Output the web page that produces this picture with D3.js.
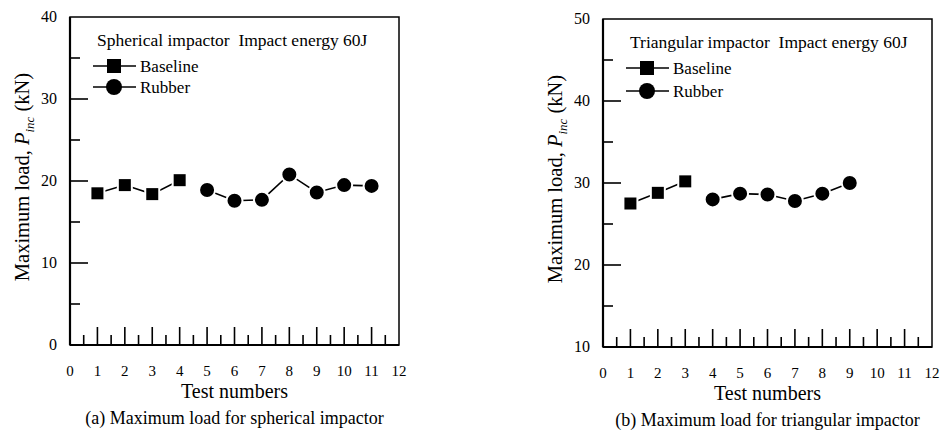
<!DOCTYPE html>
<html>
<head>
<meta charset="utf-8">
<script src="https://cdn.jsdelivr.net/npm/d3@7"></script>
<style>
  body { margin: 0; background: #fff; }
</style>
</head>
<body>
<script>
// test numbers and peak loads
var xTicks = [0, 1, 2, 3, 4, 5, 6, 7, 8, 9, 10, 11, 12];

var sphBaseX = [1, 2, 3, 4];
var sphBaseY = [18.5, 19.5, 18.4, 20.1];
var sphRubX  = [5, 6, 7, 8, 9, 10, 11];
var sphRubY  = [18.9, 17.6, 17.7, 20.8, 18.6, 19.5, 19.4];
var sphYTicks = [0, 10, 20, 30, 40];

var triBaseX = [1, 2, 3];
var triBaseY = [27.5, 28.8, 30.2];
var triRubX  = [4, 5, 6, 7, 8, 9];
var triRubY  = [28.0, 28.7, 28.6, 27.8, 28.7, 30.0];
var triYTicks = [10, 20, 30, 40, 50];

var FONT = "'Liberation Serif', 'Times New Roman', 'DejaVu Serif'";

var svg = d3.select("body").append("svg")
  .attr("width", 943)
  .attr("height", 434)
  .attr("font-family", FONT)
  .style("font-family", FONT);

drawPanel({ left: 70, top: 17, yTicks: sphYTicks, legGap: 21,
  title: "Spherical impactor  Impact energy 60J",
  caption: "(a) Maximum load for spherical impactor",
  base: d3.zip(sphBaseX, sphBaseY), rub: d3.zip(sphRubX, sphRubY) });

drawPanel({ left: 603, top: 19, yTicks: triYTicks, legGap: 23,
  title: "Triangular impactor  Impact energy 60J",
  caption: "(b) Maximum load for triangular impactor",
  base: d3.zip(triBaseX, triBaseY), rub: d3.zip(triRubX, triRubY) });

function drawPanel(cfg) {
  var w = 329, h = 328;
  var g = svg.append("g").attr("transform", "translate(" + cfg.left + "," + cfg.top + ")");

  var x = d3.scaleLinear().domain([0, 12]).range([0, w]);
  var y = d3.scaleLinear().domain(d3.extent(cfg.yTicks)).range([h, 0]);

  // minor + major ticks pointing inward
  var xMinor = d3.range(0.5, 12, 1);
  var xMajor = d3.range(1, 12, 1);
  var y0 = cfg.yTicks[0], y1 = cfg.yTicks[cfg.yTicks.length - 1];
  var yMinor = d3.range(y0 + 5, y1, 10);
  var yMajor = cfg.yTicks.slice(1, -1);

  g.selectAll(".xmin").data(xMinor).enter().append("line")
    .attr("x1", d => x(d)).attr("x2", d => x(d))
    .attr("y1", h).attr("y2", h - 10)
    .attr("stroke", "#000").attr("stroke-width", 1.6);
  g.selectAll(".xmaj").data(xMajor).enter().append("line")
    .attr("x1", d => x(d)).attr("x2", d => x(d))
    .attr("y1", h).attr("y2", h - 18)
    .attr("stroke", "#000").attr("stroke-width", 1.6);
  g.selectAll(".ymin").data(yMinor).enter().append("line")
    .attr("x1", 0).attr("x2", 10)
    .attr("y1", d => y(d)).attr("y2", d => y(d))
    .attr("stroke", "#000").attr("stroke-width", 1.6);
  g.selectAll(".ymaj").data(yMajor).enter().append("line")
    .attr("x1", 0).attr("x2", 18)
    .attr("y1", d => y(d)).attr("y2", d => y(d))
    .attr("stroke", "#000").attr("stroke-width", 1.6);

  // frame
  g.append("rect").attr("x", 0).attr("y", 0).attr("width", w).attr("height", h)
    .attr("fill", "none").attr("stroke", "#000").attr("stroke-width", 1.5);
  g.append("line").attr("x1", 0).attr("x2", 0).attr("y1", 0).attr("y2", h)
    .attr("stroke", "#000").attr("stroke-width", 2.2);
  g.append("line").attr("x1", 0).attr("x2", w).attr("y1", h).attr("y2", h)
    .attr("stroke", "#000").attr("stroke-width", 2.2);

  // tick labels
  g.selectAll(".xl").data(xTicks).enter().append("text")
    .attr("x", d => x(d)).attr("y", h + 31)
    .attr("text-anchor", "middle").style("font-size", "15px")
    .text(d => d);
  g.selectAll(".yl").data(cfg.yTicks).enter().append("text")
    .attr("x", -13).attr("y", d => y(d) + 5)
    .attr("text-anchor", "end").style("font-size", "16px")
    .text(d => d);

  // axis titles
  g.append("text").attr("x", w / 2).attr("y", h + 53)
    .attr("text-anchor", "middle").style("font-size", "20px")
    .text("Test numbers");
  var yl = g.append("text")
    .attr("transform", "translate(-41," + (h / 2 - 4) + ") rotate(-90)")
    .attr("text-anchor", "middle").style("font-size", "20.5px");
  yl.append("tspan").text("Maximum load, ");
  yl.append("tspan").style("font-style", "italic").text("P");
  yl.append("tspan").style("font-style", "italic").style("font-size", "13px")
    .attr("dy", 5).text("inc");
  yl.append("tspan").attr("dy", -5).text(" (kN)");

  g.append("text").attr("x", w / 2).attr("y", h + 79)
    .attr("text-anchor", "middle").style("font-size", "18px")
    .text(cfg.caption);

  // series
  var line = d3.line().x(d => x(d[0])).y(d => y(d[1]));
  [cfg.base, cfg.rub].forEach(function (s) {
    g.append("path").datum(s).attr("d", line)
      .attr("fill", "none").attr("stroke", "#000").attr("stroke-width", 1.6);
  });
  g.selectAll(".sq").data(cfg.base).enter().append("rect")
    .attr("x", d => x(d[0]) - 7).attr("y", d => y(d[1]) - 7)
    .attr("width", 14).attr("height", 14)
    .attr("fill", "#000").attr("stroke", "#fff").attr("stroke-width", 2);
  g.selectAll(".ci").data(cfg.rub).enter().append("circle")
    .attr("cx", d => x(d[0])).attr("cy", d => y(d[1])).attr("r", 8)
    .attr("fill", "#000").attr("stroke", "#fff").attr("stroke-width", 2);

  // legend
  g.append("text").attr("x", 27).attr("y", 29).style("font-size", "17.5px")
    .style("white-space", "pre").attr("xml:space", "preserve")
    .text(cfg.title);
  var items = [{ name: "Baseline", shape: "sq" }, { name: "Rubber", shape: "ci" }];
  items.forEach(function (it, i) {
    var ly = 49 + i * cfg.legGap;
    g.append("line").attr("x1", 23).attr("x2", 66).attr("y1", ly).attr("y2", ly)
      .attr("stroke", "#000").attr("stroke-width", 1.6);
    if (it.shape == "sq") {
      g.append("rect").attr("x", 44 - 7).attr("y", ly - 7).attr("width", 14).attr("height", 14)
        .attr("fill", "#000");
    } else {
      g.append("circle").attr("cx", 44).attr("cy", ly).attr("r", 8).attr("fill", "#000");
    }
    g.append("text").attr("x", 70).attr("y", ly + 6).style("font-size", "17px").text(it.name);
  });
}
</script>
</body>
</html>
